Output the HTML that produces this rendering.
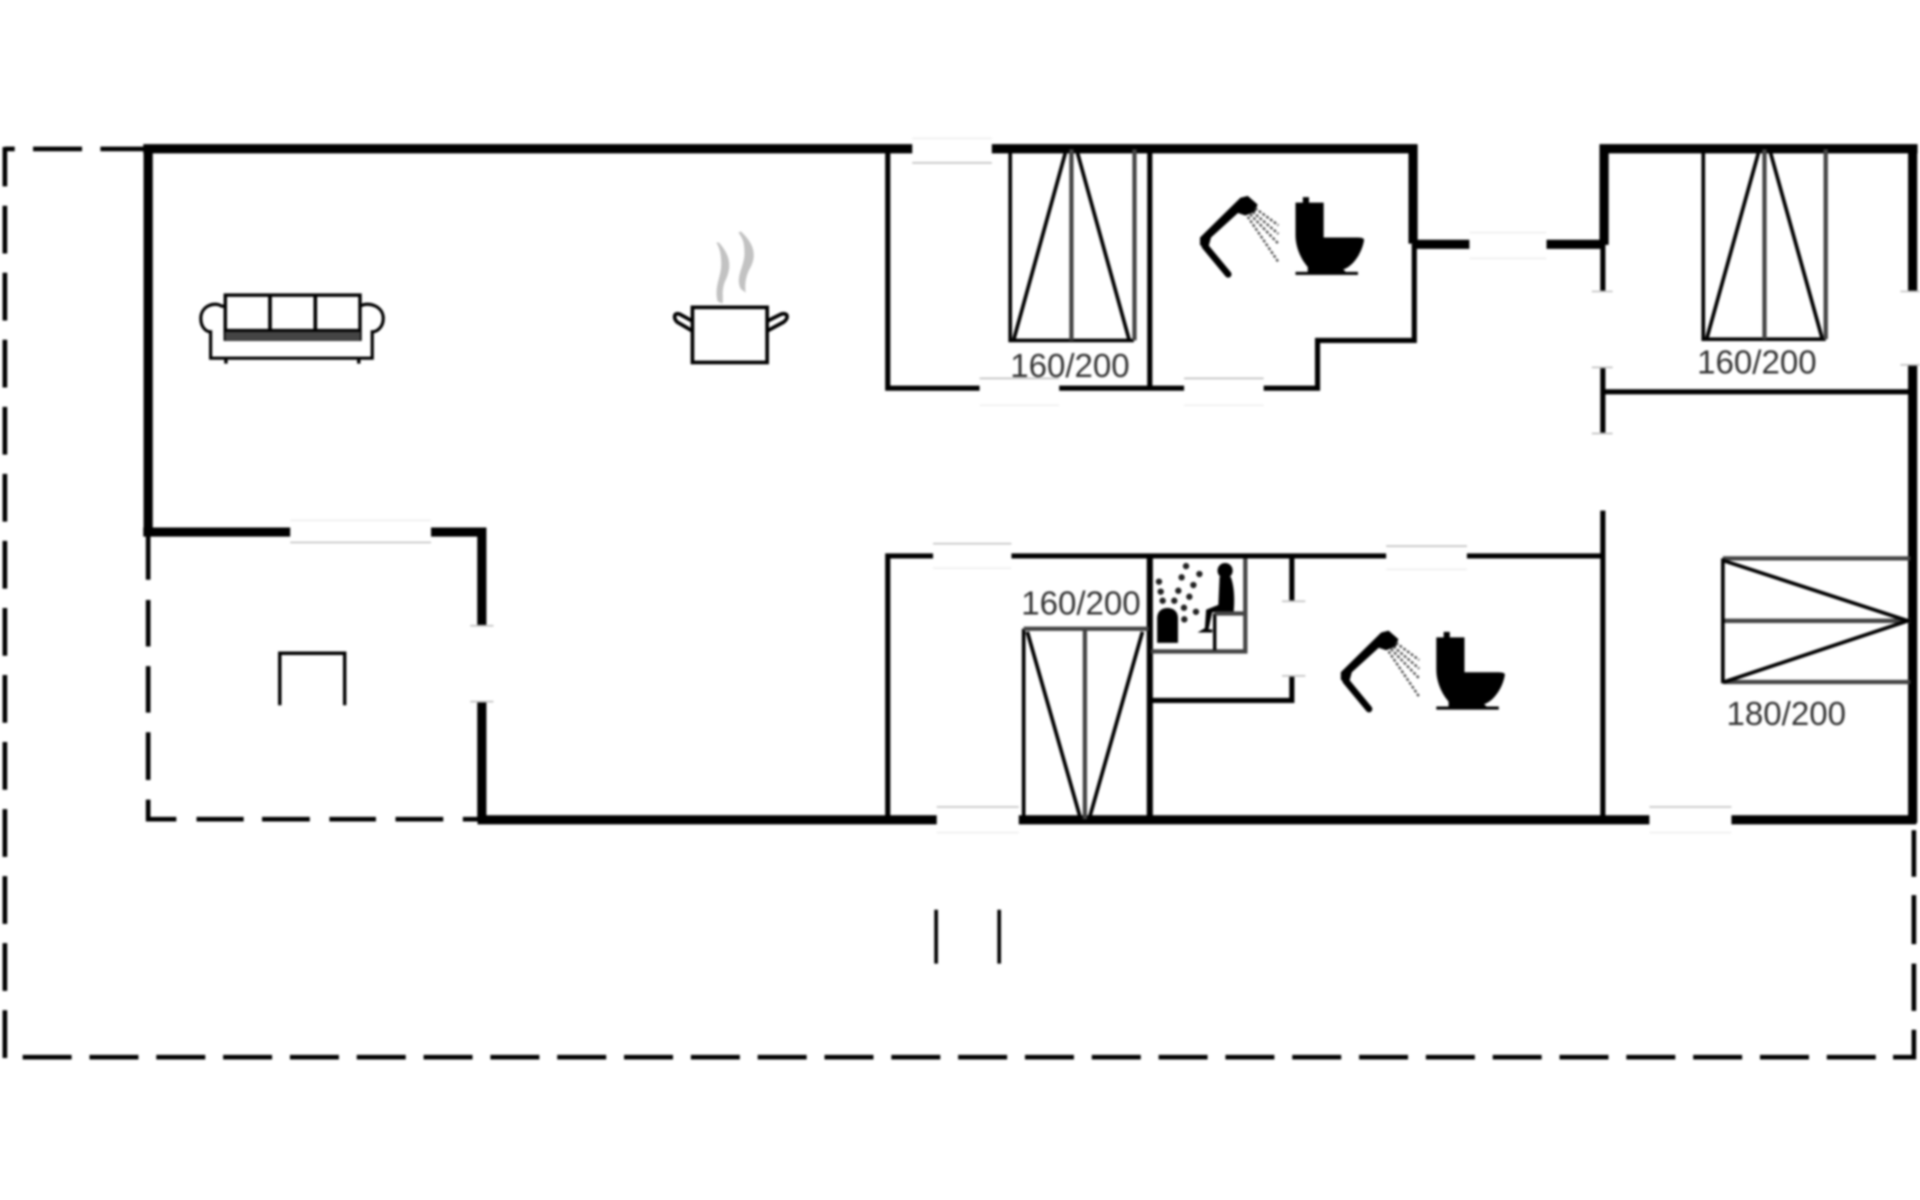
<!DOCTYPE html>
<html lang="en">
<head>
<meta charset="utf-8">
<title>Floor plan</title>
<style>
html,body{margin:0;padding:0;background:#fff;width:1920px;height:1200px;overflow:hidden}
svg{display:block;filter:blur(1px)}
text{font-family:"Liberation Sans",sans-serif;font-size:27px;fill:#333}
.k{stroke:#000;fill:none}
.t{stroke-width:7.5}
.n{stroke-width:4.2}
.g{stroke:#444;fill:none;stroke-width:3.5}
.f{stroke:#c4c4c4;fill:none;stroke-width:1.4}
.h{stroke:#f0f0f0;fill:none;stroke-width:1.4}
</style>
</head>
<body>
<svg width="1920" height="1200" viewBox="0 0 1568 980" xmlns="http://www.w3.org/2000/svg">
<rect width="1568" height="980" fill="#fff"/>

<!-- outer dashed boundary -->
<g class="k" stroke-width="3.8">
<path d="M4 120V864" stroke-dasharray="39 15.75" stroke-dashoffset="6.75"/>
<path d="M18.5 863.4H1546" stroke-dasharray="40 14.57"/>
<path d="M1546 863.4H1563V841M1563 825.5V787M1563 771V731M1563 716V678"/>
<path d="M4 121.6H12M27 121.6H67M82 121.6H120"/>
<path d="M121 435V473.5M121 490V528M121 544V582M121 598V637M121 653V669H144M160.5 669H199M214 669H253M269 669H307M323 669H362M378 669H393"/>
</g>

<!-- thick walls -->
<g class="k t">
<path d="M117 121.5H745"/>
<path d="M121 118V435"/>
<path d="M117 434.5H237"/>
<path d="M352 434.5H393.5V511"/>
<path d="M393.5 573V669"/>
<path d="M390 669.5H765M832 669.5H1347M1414 669.5H1565"/>
<path d="M810 121.5H1157.5"/>
<path d="M1154 118V199"/>
<path d="M1154 199.5H1200M1263 199.5H1310"/>
<path d="M1310 200V121.5H1566"/>
<path d="M1562 121V238"/>
<path d="M1562 298V672"/>
</g>

<!-- thinner walls -->
<g class="k n">
<path d="M725 121V317H800M865 317H967M1032 317H1076V278H1155V199"/>
<path d="M939 121V317"/>
<path d="M1309 199V238M1309 300V354M1309 417V669"/>
<path d="M1309 320H1562"/>
<path d="M725 669V454H762M826 454H1132M1198 454H1309"/>
<path d="M939 454V669" stroke-width="5"/>
<path d="M1055 456V491M1055 552V572H940"/>
</g>

<!-- sauna walls -->
<path class="g" d="M1017 456V532H940" stroke-width="4"/>

<!-- faint door / window marks -->
<g class="f">
<path d="M745 133H810"/>
<path d="M800 309H865M967 309H1032"/>
<path d="M762 444H826M1132 446H1198"/>
<path d="M237 443H352"/>
<path d="M765 659H832M1347 659H1414"/>
<path d="M384 511H403M384 573H403"/>
<path d="M1300 238H1317M1300 300H1317M1300 354H1317"/>
<path d="M1552 238H1568M1552 298H1568"/>
<path d="M1047 491H1066M1047 552H1066"/>
</g>
<g class="h">
<path d="M745 113H810"/>
<path d="M800 331H865M967 331H1032"/>
<path d="M1200 190H1263M1200 211H1263"/>
<path d="M762 464H826M1132 465H1198"/>
<path d="M237 425H352"/>
<path d="M765 680H832M1347 680H1414"/>
</g>

<!-- bed 1 -->
<g class="k" stroke-width="3">
<path d="M825 122V278H926"/>
<path d="M870 125L828 277M880 125L922 277"/>
</g>
<path class="g" d="M875 122V278" stroke-width="3"/>
<path class="g" d="M926.5 122V278" stroke-width="3.2"/>
<text x="825" y="308">160/200</text>

<!-- bed 2 -->
<g class="k" stroke-width="3">
<path d="M1391 122V277H1491"/>
<path d="M1436 125L1394 276M1446 125L1488 276"/>
</g>
<path class="g" d="M1441 122V277M1491 122V277" stroke-width="2.8"/>
<text x="1386" y="305">160/200</text>

<!-- bed 3 -->
<g class="k" stroke-width="3">
<path d="M836 669V513.5"/>
<path d="M839 516L882 667M933 516L890 667"/>
</g>
<path class="g" d="M836 513.5H938M886 513V669" stroke-width="3.2"/>
<text x="834" y="502">160/200</text>

<!-- bed 4 -->
<g class="g" stroke-width="3">
<path d="M1407 456H1560M1407 507H1560M1407 557H1560"/>
</g>
<g class="k" stroke-width="3">
<path d="M1407 456V558"/>
<path d="M1408 458L1558 507L1408 557"/>
</g>
<text x="1410" y="592">180/200</text>

<!-- sofa -->
<g class="k" stroke-width="2.8">
<rect x="184" y="241" width="110" height="36"/>
<path d="M220.5 241V277M257.5 241V277" stroke-width="3"/>
<path d="M184 270H294"/>
<path d="M184 272.5V250H181C175 246 164 250 164 260C164 268 169 271 172 271V292.5H304V271C307 271 313 268 313 260C313 250 301 246 294 250" stroke-width="2.6"/>
<path d="M184.5 292V297M293 292V297"/>
</g>
<rect x="184" y="271" width="110" height="7" fill="#444"/>

<!-- pot -->
<g class="k" stroke-width="3">
<rect x="565.5" y="251" width="61" height="45"/>
<path d="M565 262L555 256.5C550 255 550 260 553 263L565 270" stroke-width="3"/>
<path d="M627 262L638 256.5C644 255 644 260 640 263L627 270" stroke-width="3"/>
</g>
<path d="M587 198C598 210 597 220 592 230C589 238 591 243 590 248L586 246C583 234 589 226 589 216C589 208 588 203 585 198Z" fill="#c2c2c2"/>
<path d="M605 189C617 200 618 210 612 220C609 226 608 233 609 239L605 236C600 226 608 218 608 207C608 199 607 195 603 190Z" fill="#c2c2c2"/>

<!-- chair-like mark -->
<path class="k" stroke-width="2.8" d="M228.5 576V533.5H281.5V576"/>

<!-- two ticks -->
<path class="k" stroke-width="3" d="M764.5 743V787M816 743V787"/>

<!-- shower + wc -->
<g>
<path d="M1013 161.5L1019 160L1027 167L1025 173L1017 176L1011 174L989 194L986 205L980 200L980 194Z" fill="#000"/>
<path d="M984 201L1003 224" fill="none" stroke="#000" stroke-width="5.5" stroke-linecap="round"/>
<g fill="none" stroke="#444" stroke-width="1.9" stroke-dasharray="2.2 1.6">
<path d="M1025 170L1044 184M1023 173L1044 191M1021 175L1044 199M1019 177L1044 214"/>
</g>
<path d="M1064 161H1069V165.5H1081V194H1106C1110 194 1114 194 1114 196C1112 208 1104 218 1097 220L1099 222H1109V224.5H1058V222H1068L1068 218C1061 210 1058 200 1058 192V165.5H1064Z" fill="#000"/>
</g>
<g transform="translate(115 355)">
<path d="M1013 161.5L1019 160L1027 167L1025 173L1017 176L1011 174L989 194L986 205L980 200L980 194Z" fill="#000"/>
<path d="M984 201L1003 224" fill="none" stroke="#000" stroke-width="5.5" stroke-linecap="round"/>
<g fill="none" stroke="#444" stroke-width="1.9" stroke-dasharray="2.2 1.6">
<path d="M1025 170L1044 184M1023 173L1044 191M1021 175L1044 199M1019 177L1044 214"/>
</g>
<path d="M1064 161H1069V165.5H1081V194H1106C1110 194 1114 194 1114 196C1112 208 1104 218 1097 220L1099 222H1109V224.5H1058V222H1068L1068 218C1061 210 1058 200 1058 192V165.5H1064Z" fill="#000"/>
</g>

<!-- sauna -->
<path d="M945 525V505C945 499 949 496.5 953.5 496.5C958 496.5 962 499 962 505V525Z" fill="#000"/>
<g fill="#222">
<circle cx="968.6" cy="462.3" r="2.6"/><circle cx="979.5" cy="468.8" r="2.6"/>
<circle cx="965" cy="471.5" r="2.6"/><circle cx="974.6" cy="477.8" r="2.6"/>
<circle cx="946.5" cy="475" r="2.6"/><circle cx="947.9" cy="483.2" r="2.6"/>
<circle cx="962.3" cy="482.4" r="2.6"/><circle cx="971.3" cy="487.3" r="2.6"/>
<circle cx="949.5" cy="490.6" r="2.6"/><circle cx="959" cy="490.6" r="2.6"/>
<circle cx="966.9" cy="496.3" r="2.6"/><circle cx="976.7" cy="499.6" r="2.6"/>
<circle cx="967.2" cy="505.8" r="2.6"/>
<circle cx="1000.5" cy="466" r="6.2" fill="#000"/>
<path d="M996 471H1005C1008 478 1008.5 490 1007.5 500H990L987 514H990V516.5H978L984 513L985 498L995 494Z" fill="#000"/>
</g>
<path class="k" stroke-width="2.8" d="M992 501V531"/>
<path class="g" stroke-width="2.8" d="M992 501H1016"/>
</svg>
</body>
</html>
